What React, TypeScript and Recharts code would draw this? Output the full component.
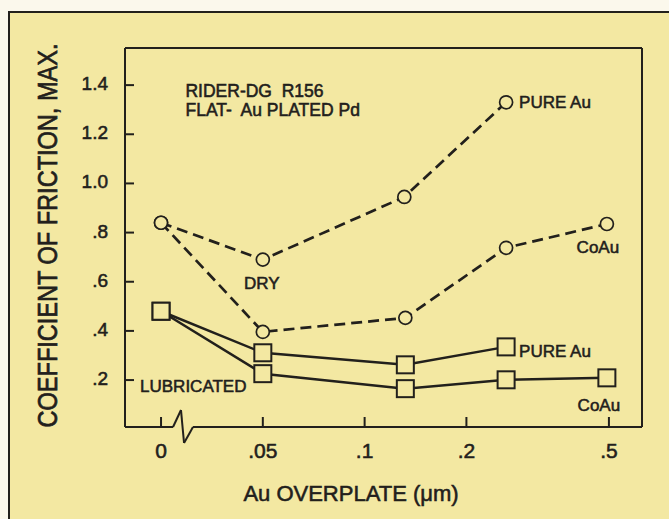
import React from 'react';
import { LineChart, Line, XAxis, YAxis, ReferenceLine, ReferenceDot } from 'recharts';

// ---- data ----
const xTickPos = [0, 1, 2, 3, 4.4];
const xTickLabels = ['0', '.05', '.1', '.2', '.5'];
const yTicks = [0.2, 0.4, 0.6, 0.8, 1.0, 1.2, 1.4];
const yTickLabels = ['.2', '.4', '.6', '.8', '1.0', '1.2', '1.4'];

const dryPureX = [0, 1, 2.39, 3.39];
const dryPureY = [0.84, 0.69, 0.945, 1.33];
const dryCoAuX = [0, 1, 2.4, 3.39, 4.38];
const dryCoAuY = [0.84, 0.396, 0.453, 0.738, 0.835];
const lubPureX = [0, 1, 2.4, 3.39];
const lubPureY = [0.48, 0.311, 0.262, 0.335];
const lubCoAuX = [0, 1, 2.4, 3.39, 4.38];
const lubCoAuY = [0.48, 0.226, 0.165, 0.201, 0.209];

const X_DOMAIN = [-0.354, 4.725];
const Y_DOMAIN = [0.009, 1.551];

const toPts = (xs: number[], ys: number[]) => xs.map((x, i) => ({ x, y: ys[i] }));
const dryPure = toPts(dryPureX, dryPureY);
const dryCoAu = toPts(dryCoAuX, dryCoAuY);
const lubPure = toPts(lubPureX, lubPureY);
const lubCoAu = toPts(lubCoAuX, lubCoAuY);

const BG = '#f3e8a2';
const INK = '#22201c';
const FONT = '"Liberation Sans", Arial, Helvetica, sans-serif';
const TXT_STROKE = 0.55;

const textStyle: React.CSSProperties = { whiteSpace: 'pre' };

const XTick = (props: any) => {
  const { x, y, payload } = props;
  const i = xTickPos.indexOf(payload.value);
  return (
    <g>
      <line x1={x} y1={y} x2={x} y2={y - 10} stroke={INK} strokeWidth={2} />
      <text x={x} y={y + 31} textAnchor="middle" fontSize={21} fontFamily={FONT} fill={INK} stroke={INK} strokeWidth={TXT_STROKE}>
        {xTickLabels[i]}
      </text>
    </g>
  );
};

const YTick = (props: any) => {
  const { x, y, payload } = props;
  const i = yTicks.findIndex((v) => Math.abs(v - payload.value) < 1e-6);
  return (
    <g>
      <line x1={x} y1={y} x2={x + 9} y2={y} stroke={INK} strokeWidth={2} />
      <text x={x - 17} y={y + 5} textAnchor="end" fontSize={19} fontFamily={FONT} fill={INK} stroke={INK} strokeWidth={TXT_STROKE}>
        {yTickLabels[i]}
      </text>
    </g>
  );
};

const Square = (props: any) => {
  const { cx, cy } = props;
  if (cx == null || cy == null) return null;
  return <rect x={cx - 8.5} y={cy - 8.5} width={17} height={17} fill={BG} stroke={INK} strokeWidth={2} />;
};

const Circle = (props: any) => {
  const { cx, cy } = props;
  if (cx == null || cy == null) return null;
  return <circle cx={cx} cy={cy} r={6.5} fill={BG} stroke={INK} strokeWidth={1.7} />;
};

const note = (text: string, dx: number, dy: number, anchor: 'start' | 'middle' | 'end' = 'start', size = 17) =>
  (p: any) => {
    const vb = p.viewBox || {};
    const cx = vb.x + (vb.width || 0) / 2;
    const cy = vb.y + (vb.height || 0) / 2;
    return (
      <text x={cx + dx} y={cy + dy} textAnchor={anchor} fontSize={size} fontFamily={FONT} fill={INK}
        stroke={INK} strokeWidth={TXT_STROKE} style={textStyle}>
        {text}
      </text>
    );
  };

const XTitle = (p: any) => {
  const vb = p.viewBox;
  return (
    <text x={vb.x + 226} y={vb.y + 74} textAnchor="middle" fontSize={22} fontFamily={FONT} fill={INK} stroke={INK} strokeWidth={TXT_STROKE}>
      Au OVERPLATE (μm)
    </text>
  );
};

const YTitle = (p: any) => {
  const vb = p.viewBox;
  const x = vb.x + 57;
  const y = vb.y + 187.5;
  return (
    <text x={x} y={y} transform={`rotate(-90, ${x}, ${y})`} textAnchor="middle" fontSize={28} fontFamily={FONT}
      fill={INK} stroke={INK} strokeWidth={0.7} textLength={384} lengthAdjust="spacingAndGlyphs">
      COEFFICIENT OF FRICTION, MAX.
    </text>
  );
};

const axisSeg = { stroke: INK, strokeWidth: 2, ifOverflow: 'visible' as const };
const y0 = Y_DOMAIN[0];

export default function App() {
  return (
    <div style={{ position: 'absolute', left: 0, top: 0, width: 669, height: 519, background: '#fbf8ec', overflow: 'hidden' }}>
      <div style={{ position: 'absolute', left: 8, top: 11, width: 661, height: 508, background: BG, borderLeft: `2px solid ${INK}`, borderTop: `2px solid ${INK}` }} />
      <div style={{ position: 'absolute', left: 0, top: 0 }}>
        <LineChart width={669} height={519} margin={{ top: 48, right: 27, bottom: 52, left: 0 }}>
          <XAxis type="number" dataKey="x" domain={X_DOMAIN} ticks={xTickPos} interval={0} axisLine={false}
            tickLine={false} tickSize={0} tickMargin={0} tick={<XTick />} height={40} label={{ content: XTitle }} />
          <YAxis type="number" dataKey="y" domain={Y_DOMAIN} ticks={yTicks} interval={0} width={125}
            axisLine={{ stroke: INK, strokeWidth: 2 }} tickLine={false} tickSize={0} tickMargin={0} tick={<YTick />}
            label={{ content: YTitle }} />

          {/* frame: top, right, and x-axis with break */}
          <ReferenceLine y={Y_DOMAIN[1]} {...axisSeg} />
          <ReferenceLine x={X_DOMAIN[1]} {...axisSeg} />
          <ReferenceLine segment={[{ x: X_DOMAIN[0], y: y0 }, { x: 0.118, y: y0 }]} {...axisSeg} />
          <ReferenceLine segment={[{ x: 0.118, y: y0 }, { x: 0.196, y: 0.078 }]} {...axisSeg} />
          <ReferenceLine segment={[{ x: 0.196, y: 0.078 }, { x: 0.226, y: -0.056 }]} {...axisSeg} />
          <ReferenceLine segment={[{ x: 0.226, y: -0.056 }, { x: 0.314, y: y0 }]} {...axisSeg} />
          <ReferenceLine segment={[{ x: 0.314, y: y0 }, { x: X_DOMAIN[1], y: y0 }]} {...axisSeg} />

          <Line data={dryPure} dataKey="y" type="linear" stroke={INK} strokeWidth={2.7} strokeDasharray="11 6"
            dot={<Circle />} isAnimationActive={false} />
          <Line data={dryCoAu} dataKey="y" type="linear" stroke={INK} strokeWidth={2.7} strokeDasharray="11 6"
            dot={<Circle />} isAnimationActive={false} />
          <Line data={lubPure} dataKey="y" type="linear" stroke={INK} strokeWidth={2.5}
            dot={<Square />} isAnimationActive={false} />
          <Line data={lubCoAu} dataKey="y" type="linear" stroke={INK} strokeWidth={2.5}
            dot={<Square />} isAnimationActive={false} />

          {/* annotations anchored to data points */}
          <ReferenceDot x={dryPureX[3]} y={dryPureY[3]} r={0} fill="none" stroke="none" ifOverflow="visible" label={note('PURE Au', 13, 6)} />
          <ReferenceDot x={dryCoAuX[4]} y={dryCoAuY[4]} r={0} fill="none" stroke="none" ifOverflow="visible" label={note('CoAu', -9, 29, 'middle')} />
          <ReferenceDot x={lubPureX[3]} y={lubPureY[3]} r={0} fill="none" stroke="none" ifOverflow="visible" label={note('PURE Au', 13, 10)} />
          <ReferenceDot x={lubCoAuX[4]} y={lubCoAuY[4]} r={0} fill="none" stroke="none" ifOverflow="visible" label={note('CoAu', -8, 33, 'middle')} />
          <ReferenceDot x={dryPureX[1]} y={dryPureY[1]} r={0} fill="none" stroke="none" ifOverflow="visible" label={note('DRY', -1, 29, 'middle')} />
          <ReferenceDot x={0} y={0.2} r={0} fill="none" stroke="none" ifOverflow="visible" label={note('LUBRICATED', -21, 12)} />
          <ReferenceDot x={0.24} y={1.4} r={0} fill="none" stroke="none" ifOverflow="visible" label={note('RIDER-DG  R156', 0, 12, 'start', 17.5)} />
          <ReferenceDot x={0.24} y={1.2} r={0} fill="none" stroke="none" ifOverflow="visible" label={note('FLAT-  Au PLATED Pd', 0, -18, 'start', 17.5)} />
        </LineChart>
      </div>
    </div>
  );
}
